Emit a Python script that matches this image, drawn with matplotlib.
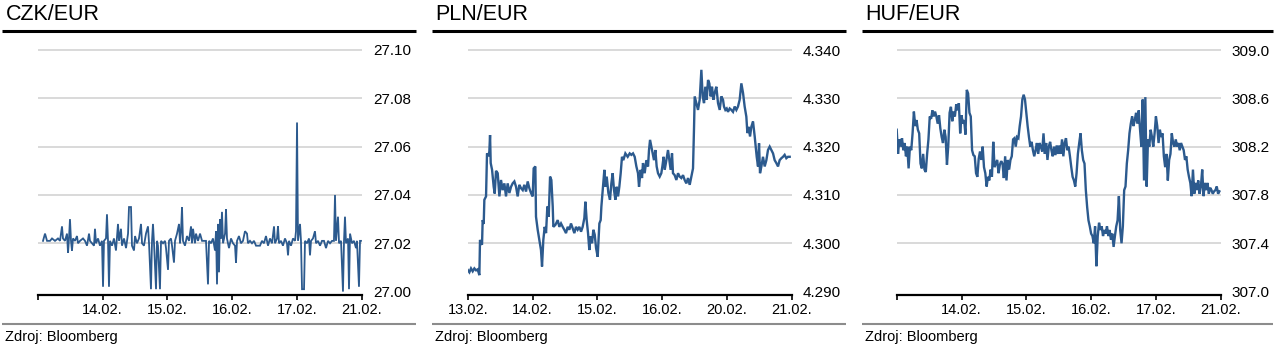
import matplotlib
matplotlib.use('Agg')
import matplotlib.pyplot as plt
from matplotlib.lines import Line2D
import numpy as np

plt.rcParams['font.family'] = ['Liberation Sans', 'DejaVu Sans']

# ---------------- data ----------------
titles = ['CZK/EUR', 'PLN/EUR', 'HUF/EUR']
source = 'Zdroj: Bloomberg'

czk_xlabels = ['', '14.02.', '15.02.', '16.02.', '17.02.', '21.02.']
pln_xlabels = ['13.02.', '14.02.', '15.02.', '16.02.', '20.02.', '21.02.']
huf_xlabels = ['', '14.02.', '15.02.', '16.02.', '17.02.', '21.02.']

czk_yticks = [27.00, 27.02, 27.04, 27.06, 27.08, 27.10]
pln_yticks = [4.290, 4.300, 4.310, 4.320, 4.330, 4.340]
huf_yticks = [307.0, 307.4, 307.8, 308.2, 308.6, 309.0]

# CZK/EUR: (time in trading days from first tick, rate)
czk_points = [
    (0.082, 27.021), (0.113, 27.024), (0.144, 27.021), (0.190, 27.021), (0.221, 27.022),
    (0.267, 27.021), (0.313, 27.022), (0.344, 27.021), (0.375, 27.027), (0.390, 27.022),
    (0.421, 27.021), (0.452, 27.024), (0.468, 27.016), (0.483, 27.022), (0.498, 27.030),
    (0.514, 27.021), (0.529, 27.017), (0.545, 27.022), (0.576, 27.021), (0.606, 27.023),
    (0.622, 27.020), (0.653, 27.021), (0.699, 27.022), (0.730, 27.021), (0.761, 27.019),
    (0.792, 27.024), (0.807, 27.021), (0.838, 27.020), (0.869, 27.019), (0.884, 27.026),
    (0.900, 27.020), (0.931, 27.022), (0.961, 27.019), (0.992, 27.021), (1.008, 27.002),
    (1.023, 27.021), (1.054, 27.022), (1.069, 27.032), (1.085, 27.021), (1.100, 27.002),
    (1.116, 27.021), (1.147, 27.019), (1.177, 27.022), (1.208, 27.017), (1.239, 27.028),
    (1.255, 27.021), (1.285, 27.026), (1.301, 27.019), (1.332, 27.022), (1.363, 27.018),
    (1.394, 27.024), (1.409, 27.035), (1.440, 27.035), (1.455, 27.019), (1.486, 27.017),
    (1.502, 27.023), (1.532, 27.020), (1.563, 27.022), (1.594, 27.028), (1.610, 27.020),
    (1.640, 27.019), (1.671, 27.024), (1.702, 27.027), (1.718, 27.020), (1.748, 27.001),
    (1.764, 27.021), (1.779, 27.028), (1.795, 27.020), (1.826, 27.001), (1.841, 27.021),
    (1.856, 27.019), (1.887, 27.001), (1.903, 27.021), (1.934, 27.020), (1.965, 27.021),
    (1.980, 27.018), (2.011, 27.009), (2.026, 27.021), (2.057, 27.022), (2.073, 27.019),
    (2.103, 27.012), (2.119, 27.021), (2.150, 27.024), (2.181, 27.028), (2.196, 27.020),
    (2.212, 27.025), (2.227, 27.035), (2.242, 27.021), (2.273, 27.019), (2.304, 27.023),
    (2.335, 27.021), (2.366, 27.027), (2.381, 27.020), (2.397, 27.026), (2.427, 27.020),
    (2.443, 27.024), (2.474, 27.021), (2.505, 27.024), (2.536, 27.021), (2.566, 27.021),
    (2.597, 27.021), (2.628, 27.003), (2.644, 27.021), (2.675, 27.020), (2.705, 27.022),
    (2.736, 27.017), (2.752, 27.025), (2.767, 27.003), (2.783, 27.028), (2.798, 27.008),
    (2.813, 27.030), (2.829, 27.022), (2.844, 27.033), (2.860, 27.020), (2.891, 27.024),
    (2.906, 27.034), (2.921, 27.022), (2.952, 27.018), (2.983, 27.022), (3.014, 27.020),
    (3.045, 27.019), (3.060, 27.012), (3.076, 27.021), (3.106, 27.023), (3.137, 27.020),
    (3.168, 27.021), (3.199, 27.025), (3.230, 27.024), (3.245, 27.020), (3.276, 27.021),
    (3.307, 27.020), (3.338, 27.021), (3.369, 27.019), (3.400, 27.019), (3.430, 27.019),
    (3.461, 27.021), (3.492, 27.020), (3.523, 27.023), (3.554, 27.019), (3.585, 27.022),
    (3.616, 27.020), (3.647, 27.027), (3.662, 27.020), (3.693, 27.022), (3.708, 27.027),
    (3.724, 27.020), (3.755, 27.021), (3.785, 27.019), (3.816, 27.022), (3.847, 27.020),
    (3.863, 27.015), (3.878, 27.021), (3.909, 27.019), (3.940, 27.022), (3.971, 27.021),
    (3.986, 27.025), (4.002, 27.070), (4.017, 27.021), (4.048, 27.028), (4.063, 27.021),
    (4.079, 27.001), (4.110, 27.001), (4.125, 27.021), (4.156, 27.020), (4.187, 27.022),
    (4.202, 27.015), (4.218, 27.021), (4.248, 27.022), (4.279, 27.025), (4.295, 27.020),
    (4.326, 27.021), (4.357, 27.019), (4.387, 27.021), (4.418, 27.021), (4.449, 27.018),
    (4.480, 27.021), (4.511, 27.020), (4.542, 27.021), (4.572, 27.021), (4.588, 27.040),
    (4.603, 27.021), (4.634, 27.031), (4.650, 27.020), (4.681, 27.021), (4.711, 27.000),
    (4.727, 27.021), (4.742, 27.031), (4.758, 27.020), (4.789, 27.022), (4.804, 27.001),
    (4.820, 27.024), (4.850, 27.020), (4.881, 27.021), (4.912, 27.018), (4.927, 27.021),
    (4.958, 27.002), (4.974, 27.021), (4.989, 27.021),
]

# PLN/EUR
pln_points = [
    (0.000, 4.2945), (0.026, 4.2940), (0.051, 4.2948), (0.077, 4.2942), (0.103, 4.2948),
    (0.129, 4.2944), (0.154, 4.2946), (0.180, 4.2934), (0.190, 4.3007), (0.206, 4.3000),
    (0.221, 4.2997), (0.231, 4.3048), (0.247, 4.3040), (0.257, 4.3090), (0.283, 4.3097),
    (0.298, 4.3186), (0.319, 4.3180), (0.334, 4.3190), (0.345, 4.3224), (0.355, 4.3166),
    (0.376, 4.3152), (0.401, 4.3117), (0.417, 4.3103), (0.437, 4.3150), (0.463, 4.3145),
    (0.489, 4.3097), (0.514, 4.3131), (0.540, 4.3110), (0.566, 4.3124), (0.591, 4.3097),
    (0.617, 4.3124), (0.643, 4.3104), (0.669, 4.3117), (0.694, 4.3124), (0.720, 4.3128),
    (0.746, 4.3117), (0.771, 4.3097), (0.797, 4.3121), (0.823, 4.3114), (0.849, 4.3110),
    (0.874, 4.3121), (0.900, 4.3107), (0.926, 4.3128), (0.951, 4.3114), (0.977, 4.3104),
    (1.003, 4.3097), (1.018, 4.3155), (1.044, 4.3159), (1.054, 4.3055), (1.080, 4.3028),
    (1.106, 4.3007), (1.131, 4.2986), (1.147, 4.2952), (1.167, 4.3007), (1.188, 4.3034),
    (1.209, 4.3021), (1.229, 4.3076), (1.250, 4.3055), (1.271, 4.3138), (1.291, 4.3131),
    (1.312, 4.3076), (1.322, 4.3034), (1.353, 4.3038), (1.389, 4.3048), (1.414, 4.3034),
    (1.440, 4.3041), (1.466, 4.3034), (1.491, 4.3028), (1.517, 4.3021), (1.543, 4.3034),
    (1.569, 4.3028), (1.594, 4.3041), (1.620, 4.3031), (1.646, 4.3021), (1.671, 4.3034),
    (1.697, 4.3028), (1.723, 4.3034), (1.749, 4.3024), (1.774, 4.3034), (1.800, 4.3052),
    (1.816, 4.3086), (1.836, 4.3048), (1.857, 4.3021), (1.877, 4.2986), (1.893, 4.3014),
    (1.919, 4.3000), (1.939, 4.3028), (1.960, 4.3018), (1.981, 4.2990), (2.006, 4.2972),
    (2.022, 4.3014), (2.032, 4.3041), (2.052, 4.3048), (2.063, 4.3076), (2.083, 4.3110),
    (2.109, 4.3152), (2.124, 4.3117), (2.145, 4.3138), (2.171, 4.3104), (2.196, 4.3090),
    (2.217, 4.3124), (2.237, 4.3145), (2.258, 4.3110), (2.279, 4.3090), (2.299, 4.3117),
    (2.320, 4.3097), (2.340, 4.3117), (2.361, 4.3145), (2.381, 4.3179), (2.402, 4.3172),
    (2.433, 4.3186), (2.469, 4.3179), (2.500, 4.3186), (2.525, 4.3183), (2.551, 4.3186),
    (2.577, 4.3179), (2.603, 4.3159), (2.628, 4.3145), (2.644, 4.3117), (2.669, 4.3152),
    (2.690, 4.3135), (2.705, 4.3166), (2.731, 4.3145), (2.757, 4.3172), (2.783, 4.3159),
    (2.798, 4.3193), (2.814, 4.3214), (2.834, 4.3200), (2.855, 4.3186), (2.875, 4.3172),
    (2.896, 4.3193), (2.916, 4.3159), (2.937, 4.3145), (2.963, 4.3138), (2.988, 4.3145),
    (3.004, 4.3159), (3.024, 4.3179), (3.040, 4.3152), (3.066, 4.3172), (3.091, 4.3193),
    (3.117, 4.3166), (3.132, 4.3152), (3.153, 4.3186), (3.168, 4.3145), (3.194, 4.3141),
    (3.220, 4.3131), (3.246, 4.3145), (3.271, 4.3138), (3.297, 4.3135), (3.323, 4.3141),
    (3.348, 4.3131), (3.374, 4.3124), (3.400, 4.3135), (3.426, 4.3121), (3.451, 4.3138),
    (3.477, 4.3155), (3.493, 4.3241), (3.503, 4.3304), (3.529, 4.3290), (3.554, 4.3276),
    (3.580, 4.3297), (3.606, 4.3359), (3.626, 4.3304), (3.647, 4.3290), (3.667, 4.3324),
    (3.688, 4.3297), (3.709, 4.3338), (3.729, 4.3331), (3.750, 4.3304), (3.770, 4.3324),
    (3.791, 4.3297), (3.811, 4.3311), (3.837, 4.3324), (3.863, 4.3290), (3.889, 4.3276),
    (3.914, 4.3304), (3.940, 4.3297), (3.955, 4.3283), (3.976, 4.3276), (3.997, 4.3279),
    (4.017, 4.3272), (4.043, 4.3279), (4.069, 4.3276), (4.094, 4.3272), (4.120, 4.3283),
    (4.146, 4.3276), (4.171, 4.3283), (4.197, 4.3297), (4.223, 4.3331), (4.249, 4.3311),
    (4.274, 4.3283), (4.300, 4.3262), (4.316, 4.3228), (4.336, 4.3241), (4.357, 4.3221),
    (4.377, 4.3241), (4.403, 4.3252), (4.429, 4.3221), (4.444, 4.3200), (4.460, 4.3179),
    (4.480, 4.3159), (4.496, 4.3207), (4.511, 4.3145), (4.532, 4.3159), (4.557, 4.3179),
    (4.583, 4.3159), (4.609, 4.3172), (4.634, 4.3193), (4.660, 4.3200), (4.686, 4.3193),
    (4.712, 4.3186), (4.737, 4.3172), (4.763, 4.3166), (4.789, 4.3159), (4.814, 4.3172),
    (4.840, 4.3176), (4.866, 4.3179), (4.891, 4.3183), (4.917, 4.3176), (4.943, 4.3179),
    (4.969, 4.3179),
]

# HUF/EUR: evenly spaced readings over the period
huf_values = [
    308.34, 308.14, 308.26, 308.20, 308.27, 308.17, 308.23, 308.12, 308.20, 308.02,
    308.20, 308.17, 308.31, 308.49, 308.37, 308.42, 308.34, 308.31, 308.06, 308.02,
    308.14, 308.01, 307.99, 308.14, 308.26, 308.45, 308.43, 308.50, 308.45, 308.49,
    308.45, 308.39, 308.46, 308.35, 308.28, 308.23, 308.34, 308.28, 308.05, 308.21,
    308.48, 308.53, 308.41, 308.49, 308.45, 308.55, 308.50, 308.56, 308.31, 308.46,
    308.39, 308.42, 308.30, 308.67, 308.64, 308.48, 308.45, 308.17, 308.13, 308.12,
    307.98, 307.95, 308.10, 308.16, 308.09, 308.20, 308.03, 307.98, 307.87, 307.95,
    307.92, 308.01, 307.95, 308.24, 308.03, 308.06, 308.09, 307.98, 308.05, 308.08,
    308.06, 307.94, 308.12, 307.92, 308.09, 308.01, 308.09, 308.12, 308.26, 308.27,
    308.20, 308.28, 308.27, 308.37, 308.45, 308.59, 308.63, 308.59, 308.48, 308.37,
    308.28, 308.20, 308.24, 308.17, 308.12, 308.17, 308.23, 308.14, 308.23, 308.20,
    308.16, 308.31, 308.14, 308.23, 308.09, 308.20, 308.24, 308.17, 308.12, 308.20,
    308.13, 308.21, 308.14,
    308.21, 308.14, 308.26, 308.12, 308.23, 308.27, 308.17, 308.20, 308.12, 308.03,
    307.95, 307.92, 307.87, 307.98, 308.14, 308.23, 308.31, 308.17, 308.09, 308.06,
    307.84, 307.70, 307.59, 307.54, 307.48, 307.46, 307.40, 307.54, 307.21, 307.46,
    307.57, 307.51, 307.54, 307.46, 307.51, 307.48, 307.54, 307.46, 307.51, 307.43,
    307.48, 307.37, 307.46, 307.54, 307.59, 307.79, 307.51, 307.40, 307.54, 307.84,
    307.87, 308.06, 308.17, 308.31, 308.39, 308.45, 308.37, 308.42, 308.48, 308.39,
    308.50, 308.34, 308.20, 308.59, 307.92, 308.61, 307.87, 308.26, 308.20, 308.34,
    308.28, 308.20, 308.31, 308.45, 308.37, 308.23, 308.34, 308.28, 308.31, 308.12,
    308.03, 308.14, 307.92, 308.09, 308.14, 308.31, 308.23, 308.20, 308.26, 308.20,
    308.23, 308.17, 308.23, 308.20, 308.17, 308.09, 308.12, 308.01, 307.95, 307.90,
    307.79, 308.01, 307.81, 307.90, 307.84, 307.92, 307.81, 307.87, 308.01, 307.79,
    307.90, 307.84, 307.90, 307.81, 307.86, 307.84, 307.81, 307.83, 307.84, 307.87,
    307.81, 307.83,
]
huf_t_start, huf_t_end = 0.0, 4.98

# ---------------- drawing ----------------
W, H = 1282, 352
fig = plt.figure(figsize=(W / 100, H / 100), dpi=100)


def fx(px):
    return px / W


def fy(py):
    return 1 - py / H


LINE_COLOR = '#2c5a8e'
GRID_COLOR = '#d9d9d9'

czk_t, czk_v = zip(*czk_points)
pln_t, pln_v = zip(*pln_points)
huf_t = np.linspace(huf_t_start, huf_t_end, len(huf_values))

series = [(czk_t, czk_v, 1.3), (pln_t, pln_v, 1.7), (huf_t, huf_values, 1.7)]
yticks_all = [czk_yticks, pln_yticks, huf_yticks]
ylabel_fmt = ['{:.2f}', '{:.3f}', '{:.1f}']
xlabels_all = [czk_xlabels, pln_xlabels, huf_xlabels]

panel_x0 = [0, 430, 860]
axes_left = [37.7, 467.7, 896.7]
rule_right = [415.7, 845.7, 1273.3]

top_px, low_px, bottom_px = 50.0, 291.6, 295.0
span_px = low_px - top_px

for i in range(3):
    x0 = panel_x0[i]
    # title
    fig.text(fx(x0 + 5.5), fy(20.5), titles[i], fontsize=15.5, va='baseline', color='black')
    # thick black rule
    fig.add_artist(Line2D([fx(x0 + 1.5), fx(rule_right[i])], [fy(30.8)] * 2,
                          lw=2.2, color='black', solid_capstyle='butt'))
    # grey bottom rule
    fig.add_artist(Line2D([fx(x0 + 1.5), fx(rule_right[i])], [fy(324)] * 2,
                          lw=1.5, color='#8c8c8c', solid_capstyle='butt'))
    fig.text(fx(x0 + 5), fy(341.5), source, fontsize=10.5, va='baseline', color='black')

    yt = yticks_all[i]
    lo, hi = yt[0], yt[-1]
    rng = hi - lo
    ymin = lo - rng * (bottom_px - low_px) / span_px
    ymax = hi + rng * 2.4 / span_px
    ax_top = top_px - 2.4
    ax = fig.add_axes([fx(axes_left[i]), fy(bottom_px), fx(324), (bottom_px - ax_top) / H])
    ax.set_xlim(0, 5)
    ax.set_ylim(ymin, ymax)

    for v in yt[1:]:
        ax.axhline(v, color=GRID_COLOR, lw=1.4, zorder=0)

    t, v, lw = series[i]
    ax.plot(t, v, color=LINE_COLOR, lw=lw, zorder=3, solid_joinstyle='miter')

    ax.set_xticks(range(6))
    ax.set_xticklabels(xlabels_all[i])
    ax.set_yticks(yt)
    ax.set_yticklabels([ylabel_fmt[i].format(y) for y in yt])
    ax.yaxis.tick_right()
    for lab in ax.get_yticklabels():
        lab.set_horizontalalignment('left')
    ax.tick_params(axis='y', length=0, pad=8, labelsize=11, colors='black')
    ax.tick_params(axis='x', direction='out', length=3.5, width=1.2, pad=2.5,
                   labelsize=10.5, colors='black')
    for s in ['top', 'left', 'right']:
        ax.spines[s].set_visible(False)
    ax.spines['bottom'].set_linewidth(1.6)
    ax.spines['bottom'].set_color('black')
    ax.set_facecolor('none')

fig.savefig('out.png', dpi=100)
